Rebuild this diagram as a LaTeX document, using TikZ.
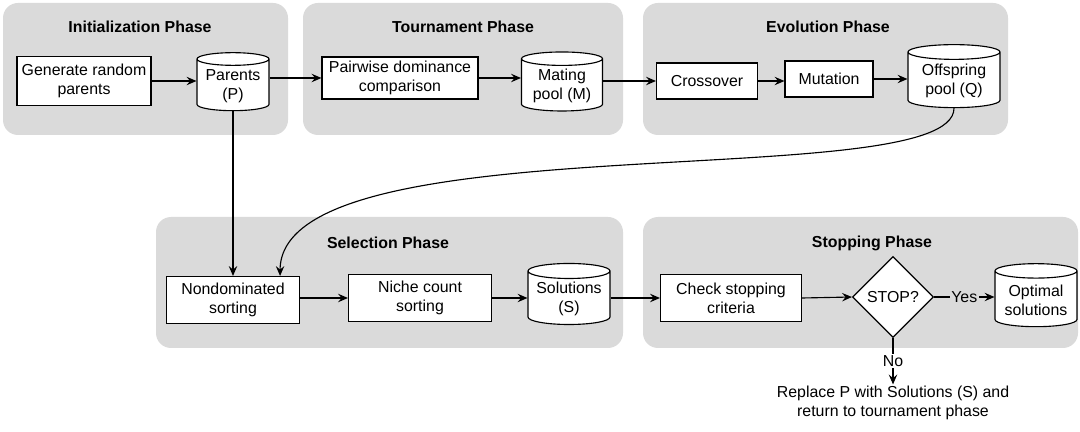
\documentclass[tikz,border=0pt]{standalone}
\usepackage{fontspec}
\setmainfont{Liberation Sans}
\usetikzlibrary{shapes.geometric,arrows.meta}
\definecolor{panelgray}{RGB}{218,218,218}
\begin{document}
\begin{tikzpicture}[x=0.025cm,y=-0.025cm,
    font=\fontsize{11.3}{13.5}\selectfont,
    phase/.style={fill=panelgray,rounded corners=0.375cm},
    title/.style={font=\fontsize{11.3}{13.5}\selectfont\bfseries},
    box/.style={draw,line width=0.8pt,fill=white,align=center,inner sep=1pt},
    pool/.style={draw,line width=0.8pt,fill=white,align=center,cylinder,shape border rotate=90,aspect=0.22,inner sep=1pt},
    flow/.style={line width=0.8pt,-{Stealth[length=7pt,width=6pt,inset=2.5pt]}}]
    \useasboundingbox (0,0) rectangle (1080,432);
    \fill[phase] (3,3) rectangle (288,135);
    \fill[phase] (303,3) rectangle (623,135);
    \fill[phase] (643,3) rectangle (1008,135);
    \fill[phase] (156,217) rectangle (623,348);
    \fill[phase] (643,217) rectangle (1078,348);
    \node[title] (tinit) at (140,27) {Initialization Phase};
    \node[title] (ttour) at (463,27) {Tournament Phase};
    \node[title] (tevol) at (828,27) {Evolution Phase};
    \node[title] (tsel) at (388,243) {Selection Phase};
    \node[title] (tstop) at (872,243) {Stopping Phase};
    \node[box,minimum width=3.35cm,minimum height=1.225cm] (gen) at (84,81) {Generate random\\parents};
    \node[pool,minimum width=1.8cm,minimum height=1.45cm] (par) at (233,86) {Parents\\(P)};
    \node[box,minimum width=3.9cm,minimum height=1.05cm] (pair) at (400,78) {Pairwise dominance\\comparison};
    \node[pool,minimum width=2.025cm,minimum height=1.475cm] (mate) at (562,86) {Mating\\pool (M)};
    \node[box,minimum width=2.525cm,minimum height=0.9cm] (cross) at (707,81) {Crossover};
    \node[box,minimum width=2.2cm,minimum height=0.9cm] (mut) at (829,79) {Mutation};
    \node[pool,minimum width=2.3cm,minimum height=1.575cm] (off) at (954,81) {Offspring\\pool (Q)};
    \node[box,minimum width=3.325cm,minimum height=1.175cm] (nond) at (233,300) {Nondominated\\sorting};
    \node[box,minimum width=3.575cm,minimum height=1.175cm] (niche) at (420,298) {Niche count\\sorting};
    \node[pool,minimum width=2.05cm,minimum height=1.525cm] (sol) at (569,299) {Solutions\\(S)};
    \node[box,minimum width=3.525cm,minimum height=1.175cm] (check) at (731,298) {Check stopping\\criteria};
    \node[draw,line width=0.8pt,fill=white,diamond,inner sep=0pt,minimum width=2.025cm,minimum height=2.025cm] (stop) at (893,297) {STOP?};
    \node[pool,minimum width=2.05cm,minimum height=1.575cm] (opt) at (1036,300) {Optimal\\solutions};
    \node[align=center,inner sep=1pt] (repl) at (893,403) {Replace P with Solutions (S) and\\return to tournament phase};
    \draw[flow] (gen.east) -- (gen.east -| par.west);
    \draw[flow] (par.east |- pair.west) -- (pair.west);
    \draw[flow] (pair.east) -- (pair.east -| mate.west);
    \draw[flow] (mate.east |- cross.west) -- (cross.west);
    \draw[flow] (cross.east) -- (cross.east -| mut.west);
    \draw[flow] (mut.east) -- (mut.east -| off.west);
    \draw[flow] (par.south) -- (nond.north);
    \draw[flow] (off.south) .. controls +(0,88) and +(0,-157) .. ([xshift=-0.5cm]nond.north east);
    \draw[flow] (nond.east |- niche.west) -- (niche.west);
    \draw[flow] (niche.east) -- (niche.east -| sol.west);
    \draw[flow] (sol.east |- check.west) -- (check.west);
    \draw[flow] (check.east) -- (stop.west);
    \draw[flow] (stop.east) -- (stop.east -| opt.west) node[midway,fill=panelgray,inner sep=1pt] {Yes};
    \draw[flow] (stop.south) -- (repl.north) node[midway,fill=white,inner sep=1pt] {No};
\end{tikzpicture}
\end{document}
